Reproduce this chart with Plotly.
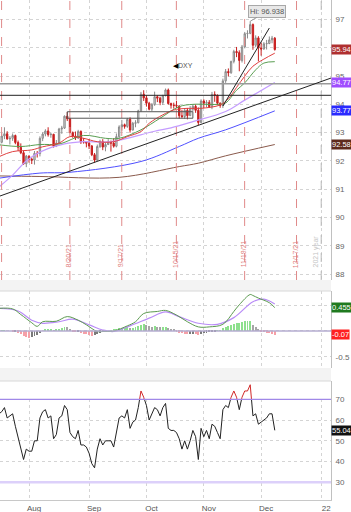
import plotly.graph_objects as go
import pandas as pd

# ---------------- data ----------------
holidays = ["2021-09-06", "2021-11-25", "2021-12-24"]
trade_dates = [d.strftime("%Y-%m-%d") for d in pd.bdate_range("2021-07-16", "2021-12-08")
               if d.strftime("%Y-%m-%d") not in holidays]

opens = [92.44, 92.66, 92.88, 92.96, 92.78, 92.80, 92.90, 92.65, 92.48, 92.29, 91.90,
         92.17, 92.06, 92.03, 92.27, 92.26, 92.80, 92.95, 93.06, 92.93, 92.94, 92.52,
         92.63, 93.13, 93.16, 93.58, 93.49, 93.00, 92.88, 92.81, 93.04, 92.67, 92.67,
         92.63, 92.53, 92.22, 92.03, 92.51, 92.68, 92.49, 92.58, 92.66, 92.63, 92.52,
         92.86, 93.20, 93.28, 93.22, 93.47, 93.09, 93.33, 93.35, 93.77, 94.36, 94.23,
         94.04, 93.83, 93.99, 94.27, 94.22, 94.07, 94.31, 94.51, 94.03, 93.97, 93.96,
         93.94, 93.60, 93.57, 93.79, 93.60, 93.83, 93.93, 93.79, 93.36, 94.12, 94.04,
         94.07, 93.92, 94.35, 94.32, 94.04, 93.96, 94.83, 95.16, 95.12, 95.52, 95.87,
         95.83, 95.55, 96.03, 96.50, 96.51, 96.82, 96.09, 96.35, 95.99, 95.96, 96.14,
         96.15, 96.28, 96.34]
highs = [92.79, 92.98, 93.19, 93.05, 92.88, 92.97, 92.93, 92.72, 92.62, 92.35, 92.21,
         92.20, 92.12, 92.35, 92.35, 92.87, 93.01, 93.12, 93.19, 93.00, 92.96, 92.74,
         93.17, 93.24, 93.61, 93.73, 93.51, 93.04, 93.04, 93.10, 93.08, 92.81, 92.70,
         92.77, 92.56, 92.28, 92.58, 92.75, 92.77, 92.66, 92.77, 92.72, 92.80, 92.97,
         93.26, 93.45, 93.32, 93.52, 93.54, 93.38, 93.44, 93.81, 94.44, 94.50, 94.32,
         94.09, 94.05, 94.45, 94.32, 94.27, 94.34, 94.56, 94.56, 94.06, 94.06, 94.13,
         93.97, 93.80, 93.86, 93.87, 93.94, 94.00, 94.00, 93.89, 94.18, 94.18, 94.15,
         94.15, 94.44, 94.46, 94.35, 94.07, 94.91, 95.25, 95.27, 95.54, 95.93, 96.03,
         95.91, 96.10, 96.56, 96.62, 96.938, 96.86, 96.44, 96.41, 96.18, 96.20, 96.28,
         96.40, 96.42, 96.38]
lows = [92.42, 92.62, 92.77, 92.75, 92.58, 92.71, 92.59, 92.35, 92.24, 91.86, 91.78,
        91.94, 91.89, 91.87, 92.12, 92.16, 92.70, 92.87, 92.86, 92.82, 92.47, 92.49,
        92.59, 92.96, 93.13, 93.41, 92.98, 92.82, 92.74, 92.78, 92.60, 92.61, 92.48,
        92.42, 92.17, 91.94, 92.00, 92.46, 92.38, 92.34, 92.56, 92.33, 92.47, 92.48,
        92.78, 93.07, 93.14, 93.17, 93.00, 93.08, 93.19, 93.33, 93.73, 94.12, 93.92,
        93.79, 93.76, 93.95, 94.08, 93.97, 93.98, 94.28, 93.99, 93.85, 93.85, 93.87,
        93.50, 93.51, 93.49, 93.47, 93.59, 93.75, 93.70, 93.27, 93.33, 93.87, 93.90,
        93.87, 93.83, 94.09, 93.98, 93.88, 93.87, 94.76, 94.99, 95.08, 95.45, 95.67,
        95.17, 95.48, 95.98, 96.33, 96.48, 95.93, 96.02, 95.52, 95.72, 95.93, 95.94,
        96.13, 96.16, 95.90]
closes = [92.67, 92.88, 92.96, 92.78, 92.80, 92.90, 92.65, 92.48, 92.29, 91.90, 92.17,
          92.06, 92.03, 92.27, 92.26, 92.80, 92.95, 93.06, 92.93, 92.94, 92.52, 92.63,
          93.13, 93.16, 93.58, 93.49, 93.00, 92.88, 92.81, 93.04, 92.67, 92.67, 92.63,
          92.53, 92.22, 92.03, 92.51, 92.68, 92.49, 92.58, 92.66, 92.63, 92.52, 92.86,
          93.20, 93.28, 93.22, 93.47, 93.09, 93.33, 93.35, 93.77, 94.36, 94.23, 94.04,
          93.83, 93.99, 94.27, 94.22, 94.07, 94.31, 94.51, 94.03, 93.97, 93.96, 93.94,
          93.60, 93.57, 93.79, 93.60, 93.83, 93.93, 93.79, 93.36, 94.12, 94.04, 94.07,
          93.92, 94.35, 94.32, 94.04, 93.96, 94.83, 95.16, 95.12, 95.52, 95.87, 95.83,
          95.55, 96.03, 96.50, 96.51, 96.82, 96.09, 96.35, 95.99, 95.96, 96.14, 96.15,
          96.28, 96.34, 95.94]

# moving averages
red_ma_dates = ["2021-07-16", "2021-07-23", "2021-08-03", "2021-08-09", "2021-08-17",
                "2021-08-23", "2021-08-30", "2021-09-07", "2021-09-15", "2021-09-22",
                "2021-09-29", "2021-10-04", "2021-10-11", "2021-10-15", "2021-10-22",
                "2021-10-29", "2021-11-09", "2021-11-12", "2021-11-17", "2021-11-22",
                "2021-11-26", "2021-12-02", "2021-12-08"]
red_ma = [92.15, 92.33, 92.39, 92.50, 92.63, 92.86, 92.80, 92.68, 92.68, 92.86,
          93.04, 93.33, 93.63, 93.80, 93.86, 93.86, 93.98, 94.20, 94.60, 95.00,
          95.35, 95.60, 95.81]
green_ma_dates = ["2021-07-16", "2021-07-28", "2021-08-06", "2021-08-17", "2021-08-30",
                  "2021-09-10", "2021-09-17", "2021-09-29", "2021-10-08", "2021-10-19",
                  "2021-10-26", "2021-11-08", "2021-11-11", "2021-11-17", "2021-11-22",
                  "2021-11-29", "2021-12-02", "2021-12-08"]
green_ma = [92.57, 92.51, 92.58, 92.60, 92.90, 92.80, 92.80, 93.10, 93.51, 93.92,
            94.00, 94.00, 94.05, 94.50, 94.76, 95.22, 95.46, 95.51]
purple_ma_dates = ["2021-07-16", "2021-07-23", "2021-07-30", "2021-08-06", "2021-08-19",
                   "2021-08-30", "2021-09-14", "2021-10-06", "2021-10-14", "2021-10-26",
                   "2021-11-11", "2021-11-22", "2021-12-08"]
purple_ma = [91.08, 91.50, 92.00, 92.31, 92.60, 92.68, 92.68, 93.05, 93.17, 93.39,
             93.75, 94.15, 94.77]
blue_ma_dates = ["2021-07-16", "2021-08-06", "2021-08-23", "2021-09-29", "2021-10-19",
                 "2021-10-28", "2021-11-11", "2021-12-08"]
blue_ma = [91.39, 91.57, 91.60, 91.98, 92.51, 92.80, 93.10, 93.77]
brown_ma_dates = ["2021-07-16", "2021-08-06", "2021-09-17", "2021-10-19", "2021-10-28",
                  "2021-11-11", "2021-12-08"]
brown_ma = [91.47, 91.45, 91.42, 91.80, 91.92, 92.18, 92.58]

# MACD
macd_dates = ["2021-07-16", "2021-07-23", "2021-07-28", "2021-08-03", "2021-08-05",
              "2021-08-09", "2021-08-16", "2021-08-20", "2021-08-26", "2021-08-31",
              "2021-09-07", "2021-09-09", "2021-09-15", "2021-09-22", "2021-09-27",
              "2021-09-30", "2021-10-07", "2021-10-12", "2021-10-18", "2021-10-22",
              "2021-10-28", "2021-11-03", "2021-11-10", "2021-11-16", "2021-11-18",
              "2021-11-24", "2021-11-26", "2021-11-30", "2021-12-06", "2021-12-08"]
macd_line = [0.44, 0.43, 0.32, 0.16, 0.09, 0.18, 0.19, 0.28, 0.21, 0.12,
             -0.01, -0.01, 0.00, 0.10, 0.18, 0.34, 0.38, 0.40, 0.31, 0.18,
             0.08, 0.08, 0.13, 0.38, 0.51, 0.71, 0.69, 0.64, 0.55, 0.455]
signal_dates = ["2021-07-16", "2021-07-27", "2021-08-03", "2021-08-09", "2021-08-17",
                "2021-08-24", "2021-09-01", "2021-09-09", "2021-09-15", "2021-09-23",
                "2021-10-04", "2021-10-12", "2021-10-19", "2021-10-28", "2021-11-08",
                "2021-11-16", "2021-11-26", "2021-12-02", "2021-12-08"]
signal_line = [0.44, 0.39, 0.21, 0.15, 0.18, 0.23, 0.12, 0.02, -0.01, 0.10,
               0.25, 0.37, 0.28, 0.15, 0.13, 0.26, 0.57, 0.62, 0.525]
macd_hist = [0.01, 0.01, 0.01, 0.0, 0.0, -0.01, -0.01, -0.03, -0.06, -0.10, -0.12,
             -0.13, -0.12, -0.10, -0.07, -0.04, 0.0, 0.02, 0.03, 0.03, 0.01, 0.02,
             0.04, 0.06, 0.08, 0.07, 0.03, -0.01, -0.02, -0.02, -0.04, -0.05, -0.06,
             -0.08, -0.09, -0.08, -0.05, -0.03, -0.02, -0.01, 0.0, 0.01, 0.02, 0.03,
             0.05, 0.06, 0.06, 0.07, 0.05, 0.06, 0.07, 0.09, 0.12, 0.13, 0.11, 0.09,
             0.08, 0.09, 0.08, 0.07, 0.07, 0.07, 0.05, 0.04, 0.03, -0.01, -0.03, -0.04,
             -0.05, -0.06, -0.06, -0.05, -0.06, -0.07, -0.05, -0.04, -0.03, -0.02, -0.01,
             -0.01, 0.01, 0.01, 0.05, 0.08, 0.10, 0.12, 0.14, 0.16, 0.16, 0.17, 0.19,
             0.20, 0.20, 0.12, 0.07, 0.02, -0.01, -0.02, -0.03, -0.04, -0.05, -0.07]

rsi = [63, 64, 66, 61, 62, 63, 57, 52, 47, 41, 46, 45, 45, 50, 50, 61, 64, 65, 61, 62,
       51, 53, 61, 62, 67, 65, 54, 52, 51, 55, 48, 48, 47, 44, 39, 37, 46, 51, 48, 50,
       50, 50, 47, 54, 61, 62, 61, 65, 56, 59, 60, 66, 74, 71, 67, 60, 63, 66, 65, 62,
       66, 68, 56, 55, 55, 54, 51, 46, 50, 46, 50, 55, 52, 41, 56, 52, 55, 51, 58, 57,
       54, 51, 65, 67, 66, 71, 74, 71, 65, 71, 74, 74, 77, 62, 63, 58, 59, 60, 61, 63,
       63, 55.04]

# reference lines / annotations
exp_dates = ["2021-07-16", "2021-08-20", "2021-09-17", "2021-10-15", "2021-11-19", "2021-12-17"]
exp_labels = ["", "8/20/21", "9/17/21", "10/15/21", "11/19/21", "12/17/21"]
year_date = "2022-01-03"
hline_gray = 94.73
hline_black = 94.32
box_dates = ["2021-08-20", "2021-10-26"]
box_prices = [93.51, 93.74]
long_trend = (["2021-07-16 09:00", "2022-01-06 14:00"], [90.76, 94.93])
short_trend = (["2021-11-10", "2021-12-06"], [93.94, 96.70])
month_ticks = ["2021-08-02", "2021-09-01", "2021-10-01", "2021-11-01", "2021-12-01", "2022-01-03"]
month_text = ["Aug", "Sep", "Oct", "Nov", "Dec", "22"]
price_ticks = [88, 89, 90, 91, 92, 93, 94, 95, 96, 97]
price_tick_text = ["88", "89", "90", "91", "92", "93", "94", "95", "", "97"]
last_labels = [(95.94, "95.94", "#b03030"), (94.77, "94.77", "#a04cff"),
               (93.77, "93.77", "#2a2aff"), (92.58, "92.58", "#5e2a1c")]

# ---------------- figure ----------------
H = 500.0  # plot area height in px


def py(pix):
    return (H - pix) / H


xr = ["2021-07-16 09:00", "2022-01-06 14:00"]
rb = [dict(bounds=["sat", "mon"]), dict(values=holidays)]
grid = dict(showgrid=True, gridcolor="#d4d4d4", griddash="dot", gridwidth=1)
FONT = "Liberation Sans"

fig = go.Figure()

# moving averages (under candles)
fig.add_trace(go.Scatter(x=brown_ma_dates, y=brown_ma, mode="lines", line=dict(color="#8a5a4c", width=1, shape="spline"), xaxis="x", yaxis="y"))
fig.add_trace(go.Scatter(x=blue_ma_dates, y=blue_ma, mode="lines", line=dict(color="#5050ff", width=1, shape="spline"), xaxis="x", yaxis="y"))
fig.add_trace(go.Scatter(x=purple_ma_dates, y=purple_ma, mode="lines", line=dict(color="#c49cff", width=1.2, shape="spline"), xaxis="x", yaxis="y"))
fig.add_trace(go.Scatter(x=green_ma_dates, y=green_ma, mode="lines", line=dict(color="#5a9e52", width=1, shape="spline"), xaxis="x", yaxis="y"))
fig.add_trace(go.Scatter(x=red_ma_dates, y=red_ma, mode="lines", line=dict(color="#e04040", width=1, shape="spline"), xaxis="x", yaxis="y"))

fig.add_trace(go.Candlestick(
    x=trade_dates, open=opens, high=highs, low=lows, close=closes,
    increasing=dict(fillcolor="#dcdcdc", line=dict(color="#8a8a8a", width=1)),
    decreasing=dict(fillcolor="#c81e1e", line=dict(color="#c81e1e", width=1)),
    whiskerwidth=0, xaxis="x", yaxis="y"))

# MACD
hist_colors = []
for i, v in enumerate(macd_hist):
    prev = macd_hist[i - 1] if i > 0 else v
    if v >= 0:
        hist_colors.append("#8de08d" if v >= prev else "#a6a6a6")
    else:
        hist_colors.append("#f5a0a8" if v < prev else "#7a7a7a")
fig.add_trace(go.Bar(x=trade_dates, y=macd_hist, marker=dict(color=hist_colors, line=dict(width=0)),
                     width=0.35 * 86400000, xaxis="x2", yaxis="y2"))
fig.add_trace(go.Scatter(x=signal_dates, y=signal_line, mode="lines", line=dict(color="#b98cf7", width=1.2, shape="spline"), xaxis="x2", yaxis="y2"))
fig.add_trace(go.Scatter(x=macd_dates, y=macd_line, mode="lines", line=dict(color="#5c9a50", width=1, shape="spline"), xaxis="x2", yaxis="y2"))

# RSI (black line, red copy clipped to the region above 70)
fig.add_trace(go.Scatter(x=trade_dates, y=rsi, mode="lines", line=dict(color="#222222", width=1), xaxis="x3", yaxis="y3"))
fig.add_trace(go.Scatter(x=trade_dates, y=rsi, mode="lines", line=dict(color="#d02828", width=1), xaxis="x4", yaxis="y4"))

shapes = []
# header bands
for a, b in [(280, 291), (368, 381)]:
    shapes.append(dict(type="rect", xref="paper", yref="paper", x0=0, x1=1, y0=py(b), y1=py(a),
                       fillcolor="#f3f3f3", line=dict(width=0), layer="below"))
    shapes.append(dict(type="line", xref="paper", yref="paper", x0=0, x1=1, y0=py(b), y1=py(b),
                       line=dict(color="#d8d8d8", width=1)))
# expiration lines
for d in exp_dates:
    shapes.append(dict(type="line", xref="x", yref="paper", x0=d + " 23:00", x1=d + " 23:00",
                       y0=py(280), y1=1, line=dict(color="#e08a8a", width=1, dash="dash")))
shapes.append(dict(type="line", xref="x", yref="paper", x0=year_date, x1=year_date, y0=py(280), y1=1,
                   line=dict(color="#b8b8b8", width=1, dash="dash")))
# horizontal levels
shapes.append(dict(type="line", xref="paper", yref="y", x0=0, x1=1, y0=hline_gray, y1=hline_gray,
                   line=dict(color="#9a9a9a", width=1.5)))
shapes.append(dict(type="line", xref="paper", yref="y", x0=0, x1=1, y0=hline_black, y1=hline_black,
                   line=dict(color="#222222", width=1)))
shapes.append(dict(type="rect", xref="x", yref="y", x0=box_dates[0], x1=box_dates[1],
                   y0=box_prices[0], y1=box_prices[1], line=dict(color="#555555", width=1)))
# trend lines
shapes.append(dict(type="line", xref="x", yref="y", x0=long_trend[0][0], x1=long_trend[0][1],
                   y0=long_trend[1][0], y1=long_trend[1][1], line=dict(color="#222222", width=1)))
shapes.append(dict(type="line", xref="x", yref="y", x0=short_trend[0][0], x1=short_trend[0][1],
                   y0=short_trend[1][0], y1=short_trend[1][1], line=dict(color="#222222", width=1)))
# MACD zero line, RSI 70/30
shapes.append(dict(type="line", xref="paper", yref="y2", x0=0, x1=1, y0=0, y1=0, line=dict(color="#b4acd0", width=1.5)))
shapes.append(dict(type="line", xref="paper", yref="y3", x0=0, x1=1, y0=70, y1=70, line=dict(color="#a088e8", width=1.2)))
shapes.append(dict(type="line", xref="paper", yref="y3", x0=0, x1=1, y0=30, y1=30, line=dict(color="#dcd0fa", width=2.5)))

ann = []
for d, t in zip(exp_dates, exp_labels):
    if t:
        ann.append(dict(x=d, y=88.33, xref="x", yref="y", text=t, textangle=-90, showarrow=False,
                        xanchor="center", yanchor="bottom", xshift=1, yshift=-5,
                        font=dict(size=7, color="#e07c7c", family=FONT)))
ann.append(dict(x="2021-12-30", y=88.33, xref="x", yref="y", text="2021 year", textangle=-90, showarrow=False,
                xanchor="center", yanchor="bottom", yshift=-5, font=dict(size=7, color="#c4c4c4", family=FONT)))
ann.append(dict(x="2021-10-14", y=95.39, xref="x", yref="y", text='<span style="color:#000">◀</span>DXY',
                showarrow=False, xanchor="left", font=dict(size=7, color="#555555", family=FONT)))
ann.append(dict(x="2021-11-24", y=96.938, xref="x", yref="y", text="Hi: 96.938", showarrow=True, arrowhead=0,
                arrowcolor="#999999", arrowwidth=1, ax=17, ay=-10, bgcolor="#e8e8e8", bordercolor="#a8a8a8",
                borderwidth=1, borderpad=1, font=dict(size=7.5, color="#555555", family=FONT)))
for v, t, c in last_labels:
    ann.append(dict(x=1, y=v, xref="paper", yref="y", text=t, showarrow=False, xanchor="left", xshift=0,
                    bgcolor=c, borderpad=0, font=dict(size=7.5, color="white", family=FONT)))
ann.append(dict(x=1, y=0.455, xref="paper", yref="y2", text="0.455", showarrow=False, xanchor="left", xshift=0,
                bgcolor="#1f7a1f", borderpad=0, font=dict(size=7.5, color="white", family=FONT)))
ann.append(dict(x=1, y=-0.07, xref="paper", yref="y2", text="-0.07", showarrow=False, xanchor="left", xshift=0,
                bgcolor="#ff2020", borderpad=0, font=dict(size=7.5, color="white", family=FONT)))
ann.append(dict(x=1, y=55.04, xref="paper", yref="y3", text="55.04", showarrow=False, xanchor="left", xshift=0,
                bgcolor="#111111", borderpad=0, font=dict(size=7.5, color="white", family=FONT)))

tickfont = dict(size=8, color="#666666", family=FONT)
xcommon = dict(type="date", range=xr, rangebreaks=rb, tickvals=month_ticks, ticktext=month_text,
               zeroline=False, **grid)
yline = dict(showline=True, linecolor="#c0c0c0", linewidth=1, mirror=False, zeroline=False, side="right",
             ticks="", tickfont=tickfont, ticklabelstandoff=2)

fig.update_layout(
    width=351, height=512, margin=dict(l=0, r=20, t=0, b=12),
    paper_bgcolor="white", plot_bgcolor="white", showlegend=False,
    bargap=0,
    xaxis=dict(domain=[0, 1], anchor="y", showticklabels=False, showline=False, rangeslider=dict(visible=False), **xcommon),
    xaxis2=dict(domain=[0, 1], anchor="y2", matches="x", showticklabels=False, showline=False, **xcommon),
    xaxis3=dict(domain=[0, 1], anchor="y3", matches="x", showticklabels=True,
                tickfont=dict(size=8, color="#555555", family=FONT),
                ticklabelshift=5, ticks="", showline=True, linecolor="#c8c8c8", **xcommon),
    xaxis4=dict(domain=[0, 1], anchor="y4", matches="x", visible=False, type="date", rangebreaks=rb, range=xr),
    yaxis=dict(domain=[py(280), 1], range=[87.79, 97.69], tickvals=price_ticks, ticktext=price_tick_text, **grid, **yline),
    yaxis2=dict(domain=[py(368), py(291)], range=[-0.72, 0.778], tickvals=[-0.5, 0, 0.5], ticktext=["-0.5", "", ""], **grid, **yline),
    yaxis3=dict(domain=[0, py(381)], range=[21.5, 78.8], tickvals=[30, 40, 50, 60, 70], **grid, **yline),
    yaxis4=dict(domain=[py(399.3), py(381)], range=[70, 78.8], visible=False),
    shapes=shapes, annotations=ann,
)

fig.write_html("out.html")
